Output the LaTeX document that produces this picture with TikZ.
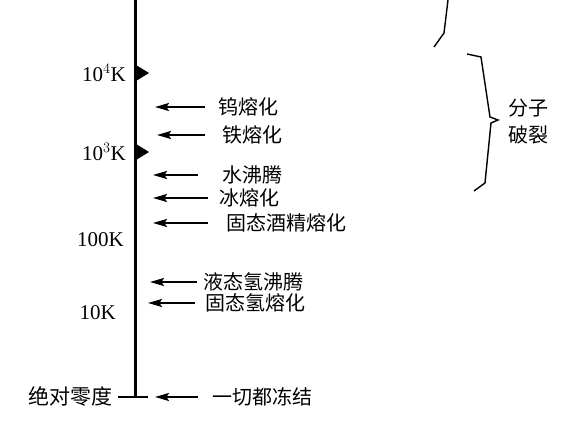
\documentclass[tikz,border=0pt]{standalone}
\usepackage{fontspec}
\setmainfont{Liberation Serif}
\newfontfamily\cjk{Noto Sans CJK SC}
\usetikzlibrary{arrows.meta}

\begin{document}
\begin{tikzpicture}[x=1pt,y=-1pt,
    temp/.style={anchor=east,inner sep=0pt,font=\fontsize{21}{23}\selectfont},
    event/.style={anchor=west,inner sep=0pt,font=\cjk\fontsize{20}{22}\selectfont},
    arr/.style={line width=1.8pt,-{Stealth[length=14pt,width=8pt,inset=2.5pt]}}]

\useasboundingbox (0,0) rectangle (566,422);

% Vertical axis
\draw[line width=3pt] (135,0) -- (135,397);
\draw[line width=2.2pt] (118,397) -- (148,397);

% Temperature marks
\fill (136,65) -- (149,73) -- (136,81) -- cycle;
\fill (136,144) -- (149,152) -- (136,160) -- cycle;

% Temperature labels
\node[temp] (t4) at (126,73) {10$^4$K};
\node[temp] (t3) at (126,152) {10$^3$K};
\node[temp] (t2) at (124,240) {100K};
\node[temp] (t1) at (116,313) {10K};
\node[temp,font=\cjk\fontsize{21}{23}\selectfont] (t0) at (113,396) {绝对零度};

% Events
\node[event] (w)   at (218,107) {钨熔化};
\node[event] (fe)  at (222,135) {铁熔化};
\node[event] (h2o) at (222,175) {水沸腾};
\node[event] (ice) at (219,198) {冰熔化};
\node[event] (alc) at (226,223) {固态酒精熔化};
\node[event] (lh)  at (203,282) {液态氢沸腾};
\node[event] (sh)  at (205,303) {固态氢熔化};
\node[event] (all) at (212,397) {一切都冻结};

\coordinate (w-tip)   at (155,107);
\coordinate (fe-tip)  at (157,135);
\coordinate (h2o-tip) at (153,175);
\coordinate (ice-tip) at (153,198);
\coordinate (alc-tip) at (153,223);
\coordinate (lh-tip)  at (150,282);
\coordinate (sh-tip)  at (148,303);
\coordinate (all-tip) at (155,397);

\draw[arr] ([xshift=-13pt]w.west)   -- (w-tip);
\draw[arr] ([xshift=-17pt]fe.west)  -- (fe-tip);
\draw[arr] ([xshift=-24pt]h2o.west) -- (h2o-tip);
\draw[arr] ([xshift=-11pt]ice.west) -- (ice-tip);
\draw[arr] ([xshift=-18pt]alc.west) -- (alc-tip);
\draw[arr] ([xshift=-6pt]lh.west)   -- (lh-tip);
\draw[arr] ([xshift=-10pt]sh.west)  -- (sh-tip);
\draw[arr] ([xshift=-14pt]all.west) -- (all-tip);

% Braces
\draw[line width=1.4pt] (448,0) -- (444,33) -- (434,47);
\draw[line width=1.4pt] (467,54) -- (481,57) -- (490,117) -- (498,120)
    -- (491,123) -- (485,183) -- (474,191);
\node[event,anchor=center] (split1) at (528,108) {分子};
\node[event,anchor=center] (split2) at (528,135) {破裂};

\end{tikzpicture}
\end{document}
